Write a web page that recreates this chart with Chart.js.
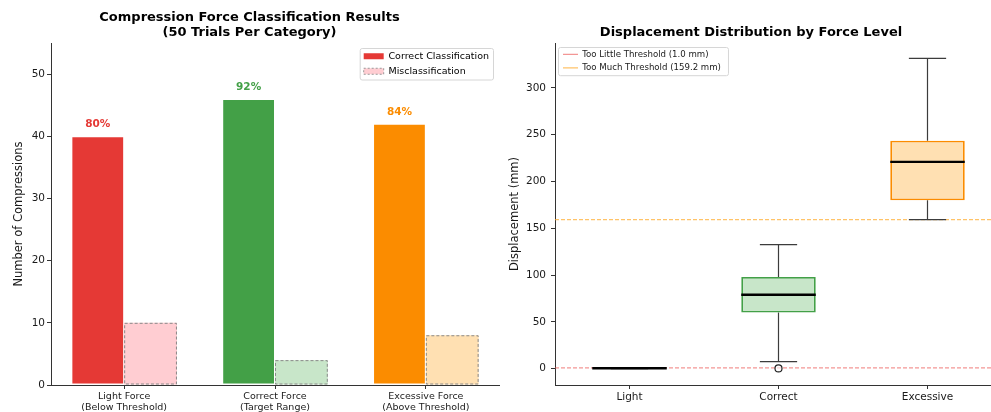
<!DOCTYPE html>
<html>
<head>
<meta charset="utf-8">
<script src="https://cdn.jsdelivr.net/npm/chart.js@4.4.1/dist/chart.umd.min.js"></script>
<style>
    html, body { margin: 0; padding: 0; background: #fff; overflow: hidden; width: 991px; height: 412px; }
    #links { position: absolute; left: 0; top: 0; }
    #rechts { position: absolute; left: 500px; top: 0; }
</style>
</head>
<body>
<canvas id="links" width="550" height="412"></canvas>
<canvas id="rechts" width="557" height="412"></canvas>
<script>
// linke Grafik: Klassifikation
const kategorien = [["Light Force", "(Below Threshold)"], ["Correct Force", "(Target Range)"], ["Excessive Force", "(Above Threshold)"]];
const richtig = [40, 46, 42];
const falsch = [10, 4, 8];
const versuche = 50;
const yTicksLinks = [0, 10, 20, 30, 40, 50];

// rechte Grafik: Boxplots
const kraftStufen = ["Light", "Correct", "Excessive"];
const whiskerUnten = [0.2, 7.5, 159.2];
const quartil1 = [0.4, 60, 180];
const median = [0.5, 79, 221];
const quartil3 = [0.6, 98, 243.5];
const whiskerOben = [0.8, 132.5, 331.5];
const ausreisser = [[], [0.3], []];
const schwelleWenig = 1.0;
const schwelleViel = 159.2;
const yTicksRechts = [0, 50, 100, 150, 200, 250, 300];

const farbenRichtig = ["#E53935", "#43A047", "#FB8C00"];
const farbenFalsch = ["#FFCDD2", "#C8E6C9", "#FFE0B2"];

Chart.defaults.font.family = "'DejaVu Sans', sans-serif";
Chart.defaults.color = "#1a1a1a";

// Legende in die Zeichenfläche schieben und Rahmen malen
const legendeVerschieben = {
    id: "legendeVerschieben",
    afterLayout(chart, args, opts) {
        const l = chart.legend;
        const a = chart.chartArea;
        const pad = l.options.labels.padding;
        const breite = l.columnSizes[0].width;
        const x = opts.rechts ? a.right - opts.rand - opts.fx - breite : a.left + opts.rand;
        l.left = x - pad;
        l.right = l.left + l.width;
        l.top = a.top + opts.oben - pad;
        l.bottom = a.bottom;
    },
    beforeDraw(chart, args, opts) {
        const l = chart.legend;
        const pad = l.options.labels.padding;
        const ctx = chart.ctx;
        const w = l.columnSizes[0].width + 2 * opts.fx + (opts.extra || 0);
        const h = l.columnSizes[0].height - pad + 2 * opts.fy;
        ctx.save();
        ctx.beginPath();
        ctx.roundRect(l.left + pad - opts.fx + 0.5, l.top + pad - opts.fy + 0.5, w, h, 2);
        ctx.fillStyle = "rgba(255,255,255,0.8)";
        ctx.fill();
        ctx.strokeStyle = "#d6d6d6";
        ctx.lineWidth = 1;
        ctx.stroke();
        ctx.restore();
    }
};

const balkenExtras = {
    id: "balkenExtras",
    afterDatasetsDraw(chart) {
        const ctx = chart.ctx;
        ctx.save();
        chart.getDatasetMeta(1).data.forEach(el => {
            const p = el.getProps(["x", "y", "base", "width"], true);
            ctx.setLineDash([3, 2]);
            ctx.strokeStyle = "#8a8a8a";
            ctx.lineWidth = 1;
            ctx.strokeRect(p.x - p.width / 2 + 0.5, p.y + 0.5, p.width - 1, p.base - p.y - 1);
        });
        ctx.setLineDash([]);
        ctx.font = "bold 10.5px 'DejaVu Sans'";
        ctx.textAlign = "center";
        ctx.textBaseline = "middle";
        chart.getDatasetMeta(0).data.forEach((el, i) => {
            const p = el.getProps(["x", "y"], true);
            ctx.fillStyle = farbenRichtig[i];
            ctx.fillText(Math.round(richtig[i] / versuche * 100) + "%", p.x, p.y - 12);
        });
        ctx.restore();
    }
};

new Chart(document.getElementById("links"), {
    type: "bar",
    data: {
        datasets: [
            {
                label: "Correct Classification",
                data: richtig.map((v, i) => ({ x: i, y: v })),
                backgroundColor: farbenRichtig,
                borderColor: "#fff",
                borderWidth: 1,
                borderSkipped: false
            },
            {
                label: "Misclassification",
                data: falsch.map((v, i) => ({ x: i, y: v })),
                backgroundColor: farbenFalsch,
                borderWidth: 0
            }
        ]
    },
    options: {
        responsive: false,
        animation: false,
        categoryPercentage: 0.7,
        barPercentage: 1,
        layout: { padding: { right: 51 } },
        scales: {
            x: {
                type: "linear",
                min: -0.485,
                max: 2.485,
                offset: false,
                afterBuildTicks: s => { s.ticks = kategorien.map((k, i) => ({ value: i })); },
                afterFit: s => { s.height = 27; },
                ticks: { callback: v => kategorien[v], font: { size: 9.5, lineHeight: 1.15 }, padding: 2, maxRotation: 0, autoSkip: false },
                grid: { offset: false, drawOnChartArea: false, tickLength: 4, tickColor: "#333" },
                border: { color: "#333" }
            },
            y: {
                min: 0,
                max: 55,
                afterBuildTicks: s => { s.ticks = yTicksLinks.map(v => ({ value: v })); },
                afterFit: s => { s.width = 51; },
                ticks: { font: { size: 10.5 }, padding: 2 },
                grid: { drawOnChartArea: false, tickLength: 4, tickColor: "#333" },
                border: { color: "#333" },
                title: { display: true, text: "Number of Compressions", font: { size: 11.5 }, padding: { top: 12.5, bottom: 0 } }
            }
        },
        plugins: {
            title: {
                display: true,
                text: ["Compression Force Classification Results", "(50 Trials Per Category)"],
                font: { size: 13, weight: "bold", lineHeight: 1.154 },
                color: "#000",
                padding: { top: 10.5, bottom: 2.5 }
            },
            legend: {
                position: "chartArea",
                align: "start",
                labels: {
                    boxWidth: 20,
                    boxHeight: 6,
                    padding: 5.5,
                    font: { size: 9.5 },
                    generateLabels: () => [
                        { text: "Correct Classification", fillStyle: farbenRichtig[0], strokeStyle: farbenRichtig[0], lineWidth: 0, datasetIndex: 0 },
                        { text: "Misclassification", fillStyle: farbenFalsch[0], strokeStyle: "#999", lineWidth: 1, lineDash: [2, 2], datasetIndex: 1 }
                    ]
                }
            },
            legendeVerschieben: { rechts: true, rand: 6, oben: 8.5, fx: 4, fy: 3.5 },
            tooltip: { enabled: false }
        }
    },
    plugins: [legendeVerschieben, balkenExtras]
});

// halbe Breite in Pixeln aus der x-Skala
function halbeBreite(ctx, einheiten) {
    const s = ctx.chart.scales.x;
    return s.getPixelForValue(1 + einheiten) - s.getPixelForValue(1);
}

const whiskerPunkte = [];
kraftStufen.forEach((k, i) => {
    whiskerPunkte.push({ x: i + 1, y: whiskerUnten[i] }, { x: i + 1, y: quartil1[i] }, { x: i + 1, y: null });
    whiskerPunkte.push({ x: i + 1, y: quartil3[i] }, { x: i + 1, y: whiskerOben[i] }, { x: i + 1, y: null });
});
const kappen = [];
kraftStufen.forEach((k, i) => {
    kappen.push({ x: i + 1, y: whiskerUnten[i] }, { x: i + 1, y: whiskerOben[i] });
});
const ausreisserPunkte = [];
ausreisser.forEach((liste, i) => liste.forEach(v => ausreisserPunkte.push({ x: i + 1, y: v })));

new Chart(document.getElementById("rechts"), {
    type: "bar",
    data: {
        datasets: [
            {
                type: "line",
                label: `Too Little Threshold (${schwelleWenig.toFixed(1)} mm)`,
                data: [{ x: 0.5, y: schwelleWenig }, { x: 3.5, y: schwelleWenig }],
                borderColor: "rgba(235,80,78,0.6)",
                borderWidth: 1.2,
                borderDash: [4, 2],
                pointRadius: 0,
                order: 6
            },
            {
                type: "line",
                label: `Too Much Threshold (${schwelleViel.toFixed(1)} mm)`,
                data: [{ x: 0.5, y: schwelleViel }, { x: 3.5, y: schwelleViel }],
                borderColor: "rgba(255,170,40,0.7)",
                borderWidth: 1.2,
                borderDash: [4, 2],
                pointRadius: 0,
                order: 6
            },
            {
                type: "line",
                label: "whisker",
                data: whiskerPunkte,
                borderColor: "#3c3c3c",
                borderWidth: 1.2,
                pointRadius: 0,
                spanGaps: false,
                order: 5
            },
            {
                type: "bar",
                label: "box",
                data: quartil1.map((q, i) => ({ x: i + 1, y: [q, quartil3[i]] })),
                backgroundColor: farbenFalsch,
                borderColor: farbenRichtig,
                borderWidth: 1.8,
                borderSkipped: false,
                categoryPercentage: 0.5,
                barPercentage: 1,
                order: 4
            },
            {
                type: "scatter",
                label: "caps",
                data: kappen,
                pointStyle: "line",
                pointRadius: ctx => halbeBreite(ctx, 0.125),
                pointBorderColor: "#3c3c3c",
                pointBorderWidth: 1.2,
                order: 3
            },
            {
                type: "scatter",
                label: "median",
                data: median.map((m, i) => ({ x: i + 1, y: m })),
                pointStyle: "line",
                pointRadius: ctx => halbeBreite(ctx, 0.25),
                pointBorderColor: "#000",
                pointBorderWidth: 2.4,
                order: 2
            },
            {
                type: "scatter",
                label: "ausreisser",
                data: ausreisserPunkte,
                pointStyle: "circle",
                pointRadius: 3.5,
                pointBorderColor: "#222",
                pointBackgroundColor: "rgba(255,255,255,0.6)",
                pointBorderWidth: 1.2,
                order: 1
            }
        ]
    },
    options: {
        responsive: false,
        animation: false,
        layout: { padding: { right: 55 } },
        scales: {
            x: {
                type: "linear",
                min: 0.5,
                max: 3.5,
                offset: false,
                afterBuildTicks: s => { s.ticks = kraftStufen.map((k, i) => ({ value: i + 1 })); },
                afterFit: s => { s.height = 27; },
                ticks: { callback: v => kraftStufen[v - 1], font: { size: 10.5 }, padding: 2, maxRotation: 0, autoSkip: false },
                grid: { offset: false, drawOnChartArea: false, tickLength: 4, tickColor: "#333" },
                border: { color: "#333" }
            },
            y: {
                min: -17.4,
                max: 348,
                afterBuildTicks: s => { s.ticks = yTicksRechts.map(v => ({ value: v })); },
                afterFit: s => { s.width = 55; },
                ticks: { font: { size: 10.5 }, padding: 5 },
                grid: { drawOnChartArea: false, tickLength: 4, tickColor: "#333" },
                border: { color: "#333" },
                title: { display: true, text: "Displacement (mm)", font: { size: 11.5 }, padding: { top: 8, bottom: 0 } }
            }
        },
        plugins: {
            title: {
                display: true,
                text: "Displacement Distribution by Force Level",
                font: { size: 13, weight: "bold", lineHeight: 1.154 },
                color: "#000",
                padding: { top: 25.5, bottom: 2.5 }
            },
            legend: {
                position: "chartArea",
                align: "start",
                labels: {
                    boxWidth: 15,
                    boxHeight: 0,
                    padding: 5,
                    font: { size: 8.6 },
                    filter: item => item.datasetIndex < 2
                }
            },
            legendeVerschieben: { rechts: false, rand: 8, oben: 7, fx: 5, fy: 3, extra: 2 },
            tooltip: { enabled: false }
        }
    },
    plugins: [legendeVerschieben]
});
</script>
</body>
</html>
